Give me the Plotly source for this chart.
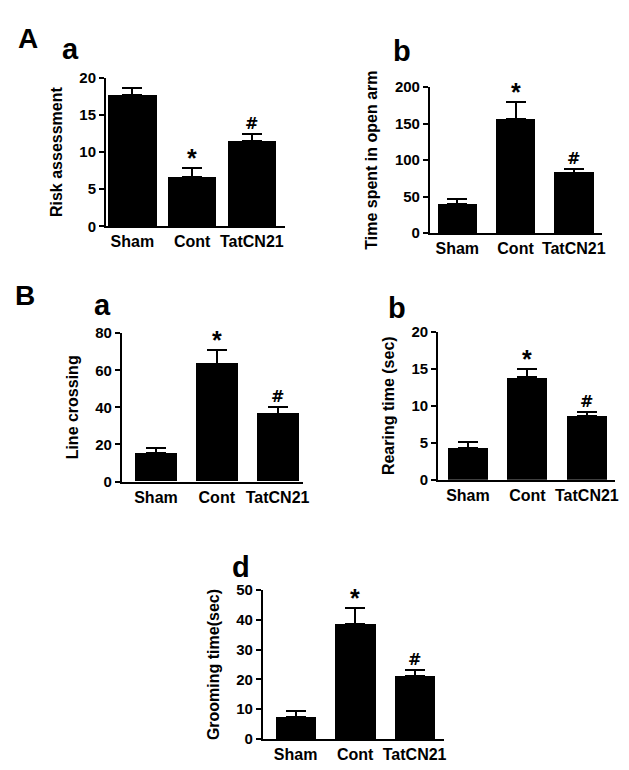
import plotly.graph_objects as go

W, H = 629, 770
categories = ["Sham", "Cont", "TatCN21"]

# Panel data (means and upper error tops)
risk_mean = [17.7, 6.7, 11.5]
risk_top = [18.6, 7.9, 12.4]
open_mean = [39.3, 156.5, 83.0]
open_top = [47.3, 180.2, 88.0]
line_mean = [15.3, 63.6, 36.6]
line_top = [17.9, 70.7, 40.4]
rear_mean = [4.3, 13.85, 8.66]
rear_top = [5.05, 14.95, 9.14]
groom_mean = [7.3, 38.6, 21.1]
groom_top = [9.3, 44.1, 23.0]
sig_marks = ["", "*", "#"]

FONT = "Liberation Sans, Arial, Helvetica, sans-serif"

panels = [
    (risk_mean, risk_top, "Risk assessment", [0, 20], 5, (99, 280), (62.3, 214), [-0.44, 2.56], 0.81),
    (open_mean, open_top, "Time spent in open arm", [0, 200], 50, (426, 600), (71.7, 221), [-0.47, 2.49], 0.68),
    (line_mean, line_top, "Line crossing", [0, 80], 20, (115, 298), (323.3, 475), [-0.56, 2.42], 0.69),
    (rear_mean, rear_top, "Rearing time (sec)", [0, 20], 5, (434.3, 613), (321.7, 473.3), [-0.5, 2.475], 0.68),
    (groom_mean, groom_top, "Grooming time(sec)", [0, 50], 10, (257.3, 440), (586, 738.3), [-0.55, 2.49], 0.68),
]

fig = go.Figure()
annotations = []
for i, (mean, top, ytitle, yr, dt, xp, yp, xr, bw) in enumerate(panels, start=1):
    xa = "x" if i == 1 else f"x{i}"
    ya = "y" if i == 1 else f"y{i}"
    err = [t - m for t, m in zip(top, mean)]
    fig.add_trace(go.Bar(
        x=categories, y=mean, xaxis=xa, yaxis=ya, width=bw,
        marker=dict(color="black", line=dict(width=0)),
        error_y=dict(type="data", array=err, arrayminus=[0, 0, 0], symmetric=False,
                     color="black", thickness=2, width=10),
        showlegend=False, hoverinfo="skip",
    ))
    axkey_x = "xaxis" if i == 1 else f"xaxis{i}"
    axkey_y = "yaxis" if i == 1 else f"yaxis{i}"
    fig.layout[axkey_x] = dict(
        domain=[xp[0] / W, xp[1] / W], anchor=ya, range=xr, type="category",
        showline=True, linewidth=2, linecolor="black", ticks="", showgrid=False,
        zeroline=False, tickfont=dict(family=FONT, size=16, color="black", weight="bold"),
        fixedrange=True,
    )
    fig.layout[axkey_y] = dict(
        domain=[1 - yp[1] / H, 1 - yp[0] / H], anchor=xa, range=yr, dtick=dt, tick0=0,
        showline=True, linewidth=2, linecolor="black", ticks="outside", ticklen=5,
        tickwidth=2, tickcolor="black", showgrid=False, zeroline=False,
        tickfont=dict(family=FONT, size=15, color="black", weight="bold"),
        title=dict(text=ytitle, font=dict(family=FONT, size=16, color="black", weight="bold"), standoff=13),
        fixedrange=True,
    )
    for c, t, s in zip(categories, top, sig_marks):
        if s:
            annotations.append(dict(
                x=c, y=t, xref=xa, yref=ya, text=s, showarrow=False, yanchor="bottom",
                yshift=-6 if s == "*" else -1,
                font=dict(family=FONT if s == "*" else "DejaVu Sans, sans-serif",
                          size=25 if s == "*" else 16, color="black", weight="bold"),
            ))

labels = [("A", 20, 22, 28), ("a", 63, 33, 29), ("b", 398, 35, 29),
          ("B", 17, 285, 28), ("a", 95, 295, 29), ("b", 393, 298, 29), ("d", 235, 562, 29)]
for txt, px, py, sz in labels:
    annotations.append(dict(
        x=px / W, y=1 - py / H, xref="paper", yref="paper", text=txt, showarrow=False,
        xanchor="center", yanchor="middle",
        font=dict(family=FONT, size=sz, color="black", weight="bold"),
    ))

fig.update_layout(
    width=W, height=H, margin=dict(l=0, r=0, t=0, b=0),
    paper_bgcolor="white", plot_bgcolor="white",
    annotations=annotations, bargap=0,
)
fig.write_html("out.html")
